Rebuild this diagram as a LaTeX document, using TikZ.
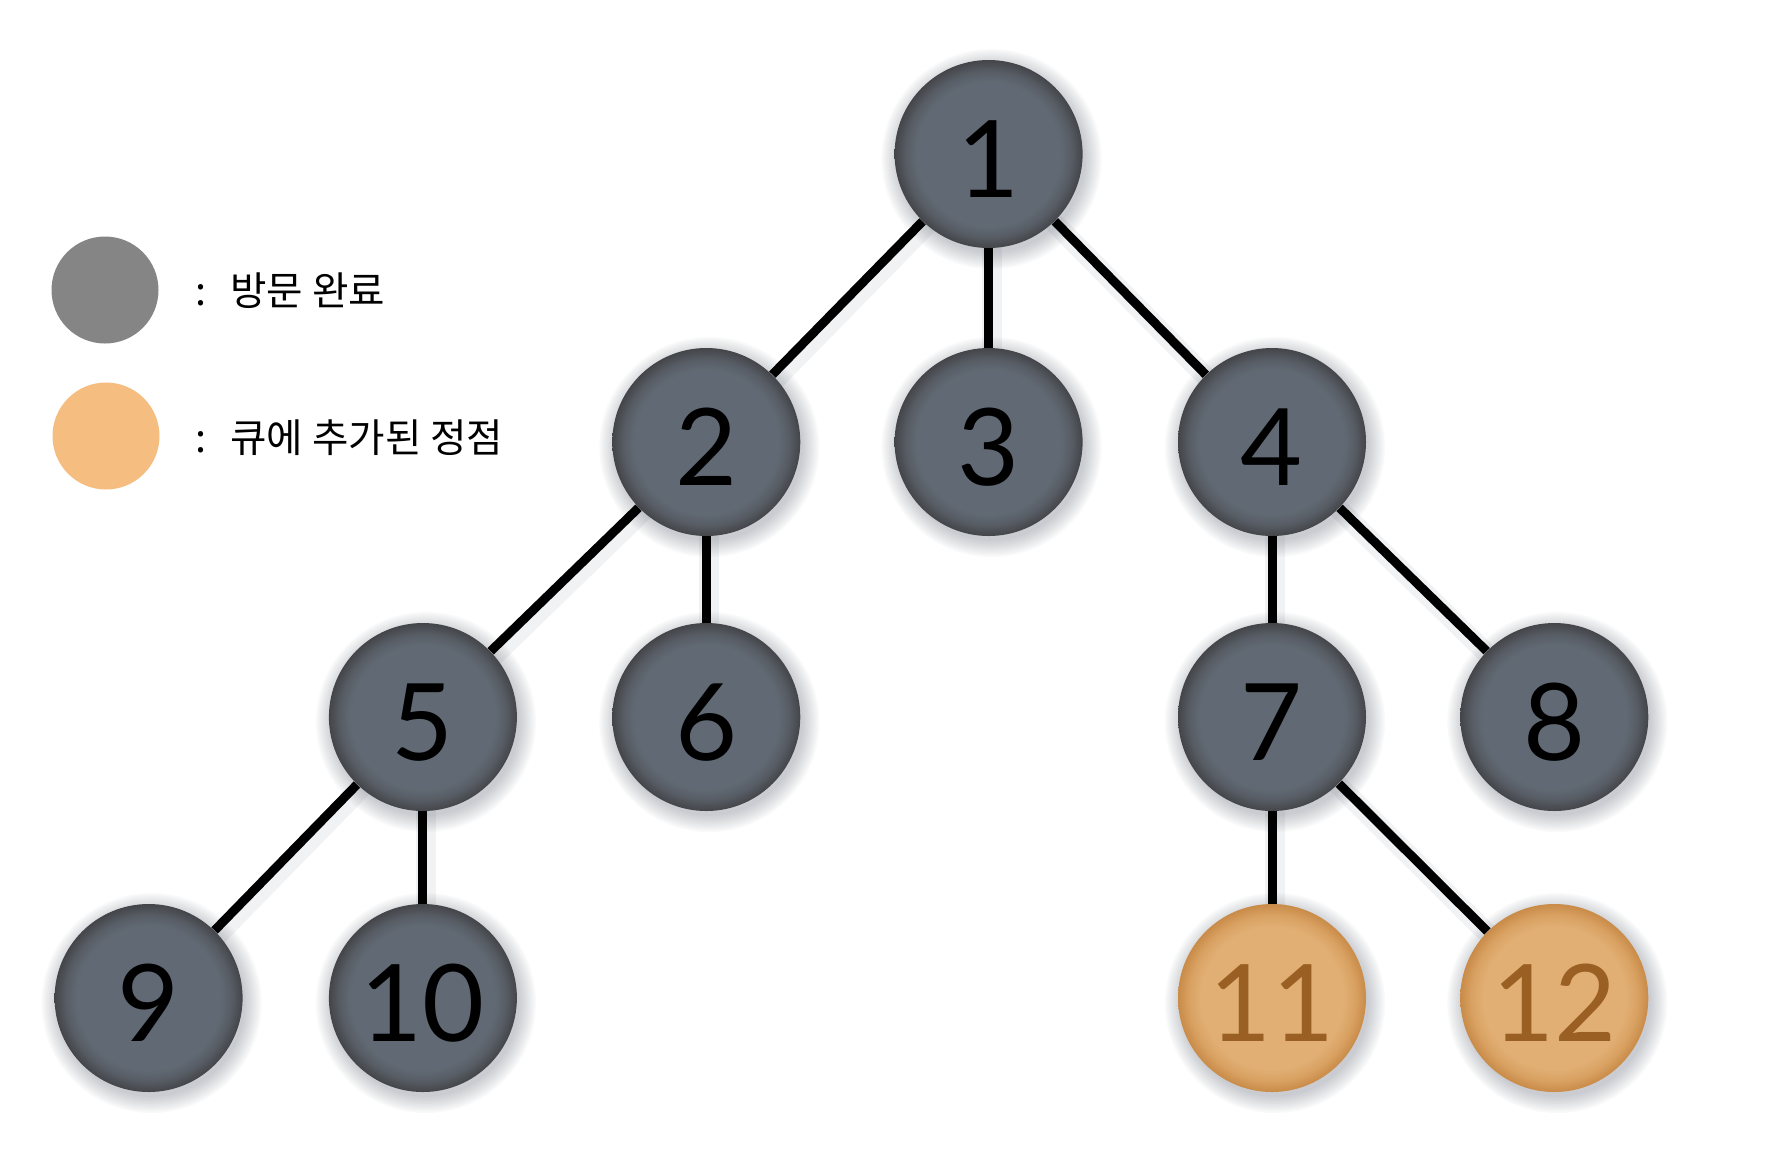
\documentclass[tikz,border=0pt]{standalone}
\usepackage{fontspec}
\setmainfont{Lato}
\newfontfamily\kr{Noto Sans CJK KR}
\usetikzlibrary{backgrounds}
\definecolor{gin}{HTML}{616A74}
\definecolor{gmid}{HTML}{585D65}
\definecolor{gout}{HTML}{434549}
\definecolor{oin}{HTML}{E1AE73}
\definecolor{omid}{HTML}{D9A263}
\definecolor{oout}{HTML}{C98B48}
\definecolor{otext}{HTML}{9A5F22}
\definecolor{lgray}{HTML}{858585}
\definecolor{lorange}{HTML}{F5BD80}
\definecolor{shadowc}{HTML}{3A4454}
\pgfdeclareradialshading{gshade}{\pgfpoint{0bp}{0bp}}{color(0bp)=(gin); color(19bp)=(gin); color(22bp)=(gmid); color(25bp)=(gout); color(50bp)=(gout)}
\pgfdeclareradialshading{oshade}{\pgfpoint{0bp}{0bp}}{color(0bp)=(oin); color(19bp)=(oin); color(22bp)=(omid); color(25bp)=(oout); color(50bp)=(oout)}
\newcommand\dg[1]{\raisebox{-2.5pt}[\height][0pt]{#1}}
\tikzset{
  vnode/.style={circle, minimum size=94pt, inner sep=0pt, shading=gshade, text=black,
    font=\fontsize{53.5pt}{54pt}\selectfont},
  qnode/.style={circle, minimum size=94pt, inner sep=0pt, shading=oshade, text=otext,
    font=\fontsize{53.5pt}{54pt}\selectfont},
  edge/.style={line width=4.5pt, black},
  edgeshadow/.style={line width=10pt, shadowc, opacity=0.07},
  legtext/.style={anchor=base west, inner sep=0pt, font=\kr\fontsize{19.8pt}{20pt}\selectfont},
}
\begin{document}
\begin{tikzpicture}[x=0.5pt,y=-0.5pt]
\useasboundingbox (0,0) rectangle (1792,1148);
% tree nodes
\node[vnode] (n1)  at (988.6,154) {\dg{1}};
\node[vnode] (n2)  at (706.3,442) {\dg{2}};
\node[vnode] (n3)  at (988.6,442) {\dg{3}};
\node[vnode] (n4)  at (1272,442) {\dg{4}};
\node[vnode] (n5)  at (422.9,717) {\dg{5}};
\node[vnode] (n6)  at (706.3,717) {\dg{6}};
\node[vnode] (n7)  at (1272,717) {\dg{7}};
\node[vnode] (n8)  at (1554.3,717) {\dg{8}};
\node[vnode] (n9)  at (148.6,998) {\dg{9}};
\node[vnode] (n10) at (422.9,998) {\dg{10}};
\node[qnode] (n11) at (1272,998) {\dg{11}};
\node[qnode] (n12) at (1554.3,998) {\dg{12}};
% legend
\node[circle, fill=lgray, minimum size=53.5pt, inner sep=0pt] (lg) at (105,290) {};
\node[circle, fill=lorange, minimum size=53.5pt, inner sep=0pt] (lo) at (106,436) {};
\node[legtext] (lt1) at (195,305) {:\hspace{12pt}방문 완료};
\node[legtext] (lt2) at (195,452) {:\hspace{12pt}큐에 추가된 정점};
\begin{pgfonlayer}{background}
  \foreach \n in {n1,n2,n3,n4,n5,n6,n7,n8,n9,n10,n11,n12}{
    \foreach \i in {1,...,10}{
      \fill[shadowc, opacity=0.03] ([xshift=1.5pt,yshift=-2.5pt]\n.center) circle[radius=46pt+\i*0.9pt];
    }
  }
  \foreach \a/\b in {n1/n2,n1/n3,n1/n4,n2/n5,n2/n6,n4/n7,n4/n8,n5/n9,n5/n10,n7/n11,n7/n12}{
    \draw[edgeshadow] ([xshift=1.5pt,yshift=-2.5pt]\a.center) -- ([xshift=1.5pt,yshift=-2.5pt]\b.center);
  }
  \foreach \a/\b in {n1/n2,n1/n3,n1/n4,n2/n5,n2/n6,n4/n7,n4/n8,n5/n9,n5/n10,n7/n11,n7/n12}{
    \draw[edge] (\a) -- (\b);
  }
\end{pgfonlayer}
\end{tikzpicture}
\end{document}
